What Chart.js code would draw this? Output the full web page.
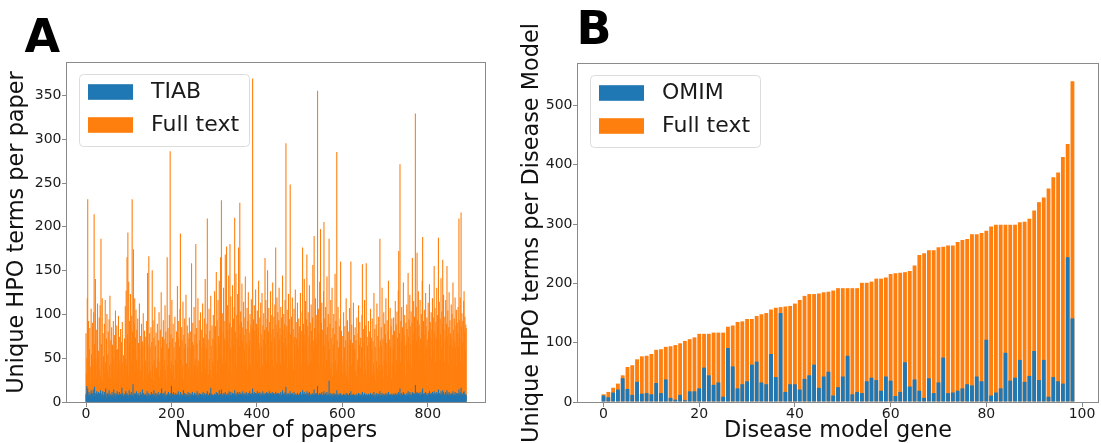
<!DOCTYPE html>
<html lang="en">
<head>
<meta charset="UTF-8">
<title>Unique HPO terms per paper / per disease model</title>
<script src="https://cdn.jsdelivr.net/npm/chart.js"></script>
<style>
  html, body { margin: 0; padding: 0; background: #fff; overflow: hidden; }
  canvas { position: absolute; top: 0; }
  #chartA { left: 0; }
  #chartB { left: 520px; }
</style>
</head>
<body>
<canvas id="chartA" width="520" height="445"></canvas>
<canvas id="chartB" width="581" height="445"></canvas>
<script>
// ---- panel A : unique HPO terms per paper (891 papers) ----
const tiab = [
  9,6,18,12,15,4,8,11,7,3,9,5,13,10,3,7,10,14,6,4,17,8,5,10,7,12,4,9,6,11,
  4,8,10,5,13,7,3,9,6,12,8,4,7,11,5,8,15,6,3,9,7,10,4,8,13,5,8,6,9,3,
  7,11,5,8,4,14,8,6,10,3,7,9,5,12,8,4,8,6,11,7,3,9,5,8,16,6,10,4,7,8,
  5,9,7,12,4,8,10,6,8,3,7,13,5,9,8,4,11,6,8,7,20,5,8,10,4,7,9,6,12,5,
  8,4,10,6,8,7,3,11,5,9,8,6,14,4,7,10,5,8,3,8,9,6,7,12,4,8,5,10,8,6,
  3,8,6,11,7,4,9,8,5,13,6,8,4,10,7,5,9,3,8,11,6,7,8,4,10,5,8,15,6,9,
  7,4,10,8,6,12,5,8,7,3,9,8,6,11,4,8,7,10,5,8,18,6,9,4,7,11,5,8,8,6,
  10,5,8,6,9,4,12,7,8,5,8,11,6,9,4,7,8,5,13,8,6,10,4,7,9,5,8,8,6,11,
  6,8,4,10,7,5,9,8,3,11,6,8,7,5,10,4,8,9,6,7,12,5,8,4,8,10,6,7,9,5,
  8,5,9,7,11,4,8,6,10,8,5,7,9,4,12,6,8,7,5,10,8,6,16,4,9,7,8,5,8,6,
  7,9,5,8,6,11,8,4,10,7,8,6,13,5,8,9,7,14,6,8,4,10,8,7,9,5,11,6,8,8,
  8,6,10,7,8,12,5,9,7,11,6,8,8,10,4,9,7,8,13,6,8,10,5,8,7,11,6,9,8,7,
  11,8,9,6,8,10,7,12,5,9,8,7,10,8,6,11,8,9,5,8,10,7,8,12,6,9,8,7,10,8,
  15,7,9,8,11,6,8,10,7,9,8,12,6,8,10,7,8,11,5,9,8,7,10,8,12,6,9,8,7,10,
  8,9,7,11,8,10,6,9,8,12,7,8,10,8,9,6,11,8,7,10,8,9,8,6,11,7,9,8,10,8,
  7,10,8,8,9,6,11,8,8,7,13,9,8,10,7,8,11,8,17,7,9,8,6,10,8,9,7,8,12,8,
  6,9,8,10,7,8,5,11,8,7,9,6,8,8,5,10,7,8,8,6,9,7,11,8,8,6,10,13,7,9,
  8,11,7,6,9,8,8,12,7,9,10,6,8,11,7,8,6,9,8,5,8,10,7,8,14,8,6,9,8,10,
  7,9,18,6,8,8,5,10,7,9,8,8,11,6,8,7,9,12,8,8,5,10,8,7,11,8,6,9,8,24,
  6,8,5,10,8,7,9,4,8,7,10,6,8,9,7,8,5,13,8,6,9,7,4,8,8,10,9,6,8,7,
  5,8,7,9,4,8,8,6,7,10,5,8,9,6,4,8,7,10,6,8,12,7,8,5,8,7,9,6,8,7,
  8,6,8,5,9,7,6,8,10,5,7,9,6,8,4,7,9,11,6,8,5,8,10,7,6,8,9,5,8,7,
  6,9,7,4,8,8,10,6,8,7,9,5,8,6,11,5,8,7,4,9,7,10,6,8,5,9,7,6,12,8,
  5,8,7,10,6,8,4,9,7,8,5,8,10,6,7,9,5,8,11,7,8,6,9,7,8,4,9,6,8,7,
  9,6,8,7,10,5,8,7,9,8,6,11,10,7,8,15,6,9,8,10,5,8,7,11,6,8,9,7,5,8,
  7,10,8,6,12,8,9,6,11,8,7,9,5,8,11,8,8,10,7,9,6,19,8,10,8,11,9,7,10,8,
  9,7,11,8,6,9,8,12,15,7,9,6,10,8,5,11,8,7,9,8,6,10,8,7,12,6,9,8,10,7,
  8,11,7,9,6,12,8,10,6,9,8,11,7,9,8,14,8,10,6,9,8,12,7,10,8,13,7,11,8,6,
  9,8,11,6,8,13,8,10,6,8,11,7,9,8,6,10,8,9,7,12,8,6,9,8,11,7,8,10,5,9,
  8,10,7,14,9,8,11,6,16,8,10,7,9,6,11,12,8,9,7,8,8
];
const fullTextA = [
  78,32,50,118,231,45,92,25,60,84,40,22,106,54,34,90,47,24,102,214,66,38,140,50,28,82,42,112,30,58,
  48,96,37,110,29,186,66,43,118,24,78,52,33,89,39,116,45,26,72,100,35,54,80,29,94,42,121,27,70,44,
  85,38,65,26,92,49,22,76,42,104,32,59,87,25,60,39,98,33,74,47,20,83,40,68,29,91,45,34,53,24,
  72,36,109,49,127,42,165,77,193,31,137,64,92,39,123,69,44,98,231,80,60,174,42,89,118,33,73,105,48,82,
  38,95,27,67,45,112,24,75,36,61,89,30,69,42,101,23,64,81,35,47,74,29,92,41,147,65,32,166,46,78,
  62,35,85,27,68,150,42,93,25,73,47,108,32,64,79,39,22,89,49,33,70,102,28,46,82,37,125,62,26,74,
  42,93,31,71,48,110,36,80,24,66,165,41,84,61,29,99,68,286,38,77,46,116,32,72,89,42,62,26,97,48,
  68,35,80,45,132,30,73,92,40,63,106,192,47,31,85,70,41,114,26,76,61,95,36,66,122,44,28,87,62,78,
  38,72,96,46,31,80,61,158,35,68,90,28,65,108,42,77,49,180,32,84,66,40,118,47,25,93,70,44,102,62,
  34,82,47,112,29,73,42,95,66,140,37,77,61,89,209,41,71,31,106,49,81,36,121,64,27,87,46,72,99,40,
  70,126,39,86,61,148,32,93,47,116,75,41,138,66,85,165,36,230,49,101,43,80,130,33,72,92,168,46,69,177,
  45,110,82,38,144,67,90,180,61,120,34,85,71,133,42,95,65,108,210,48,80,146,40,99,73,123,47,176,88,63,
  227,77,103,44,91,135,69,85,39,114,76,60,96,143,45,83,67,107,36,92,125,62,79,71,100,42,88,117,65,84,
  369,70,94,46,110,81,40,128,64,89,74,104,44,85,138,67,60,96,37,113,77,63,124,42,87,71,101,48,82,164,
  66,116,85,46,95,150,72,80,107,43,91,62,126,77,69,99,48,136,83,40,97,73,111,64,176,88,44,119,79,102,
  63,93,130,71,84,43,108,76,96,48,144,82,67,100,45,89,116,73,295,62,86,105,38,80,123,66,94,47,248,77,
  43,97,70,119,49,83,36,106,74,65,128,45,91,72,40,113,79,61,95,34,86,68,124,47,81,42,103,176,71,89,
  62,140,77,40,115,67,94,168,48,86,102,42,74,133,65,90,46,111,81,36,96,156,70,60,189,84,44,118,73,99,
  66,92,355,47,106,78,42,137,71,197,62,90,113,45,82,67,126,205,64,95,39,108,76,48,143,85,43,100,69,186,
  60,89,38,116,73,45,130,30,84,65,100,41,77,146,47,92,36,285,70,43,108,62,28,86,67,95,160,40,81,49,
  32,75,44,102,26,62,86,37,70,118,30,48,93,40,23,80,64,107,34,71,160,42,88,28,67,47,113,37,76,60,
  85,35,70,29,96,48,42,78,110,33,65,91,39,73,25,62,99,157,45,83,32,69,116,49,37,87,158,31,74,64,
  40,92,47,27,80,67,106,36,73,60,95,31,69,44,124,34,83,63,25,88,46,112,38,75,29,97,62,42,186,70,
  35,85,64,130,41,72,28,102,49,89,33,77,118,44,67,93,30,80,138,47,71,37,107,62,86,26,95,43,76,60,
  96,40,81,66,115,33,88,48,103,73,38,127,172,62,78,271,45,92,69,108,36,85,60,136,42,76,99,64,31,90,
  68,111,83,47,147,74,94,44,122,86,65,103,39,90,164,71,78,115,62,97,46,329,84,108,69,170,93,49,126,75,
  88,63,116,72,42,100,80,138,188,66,92,47,105,76,38,124,86,62,96,71,45,113,81,65,134,43,91,74,102,49,
  83,118,67,96,60,155,79,107,45,91,72,130,64,99,85,187,70,114,48,95,77,141,62,103,89,162,66,122,82,46,
  97,71,116,49,89,155,75,104,43,85,125,65,93,78,46,111,73,100,62,136,82,44,95,69,119,61,87,105,40,90,
  78,108,63,209,93,73,119,46,216,86,101,68,92,44,115,126,80,97,60,88,84
];
const paperTicks = [0, 200, 400, 600, 800];
const paperTermTicks = [0, 50, 100, 150, 200, 250, 300, 350];

// ---- panel B : unique HPO terms per disease model gene (99 genes) ----
const omim = [
  11,8,16,21,40,22,12,34,14,15, 13,32,15,38,7,4,12,3,18,18,
  23,58,45,29,33,9,91,60,23,30, 35,63,68,33,30,81,42,150,17,30,
  30,21,39,45,63,24,43,51,11,25, 43,78,13,17,15,35,41,37,19,43,
  36,10,17,67,26,38,19,7,40,15, 33,75,15,16,19,23,30,28,43,35,
  105,11,16,23,83,36,41,71,34,44, 86,37,71,9,42,35,31,244,141
];
const fullTextB = [
  13,17,24,31,45,59,62,72,77,78, 81,88,89,93,94,96,99,103,106,109,
  115,115,115,117,117,117,127,129,135,136, 140,140,145,148,150,156,159,160,161,162,
  166,172,179,182,182,183,185,186,188,192, 192,192,192,192,201,201,203,208,208,210,
  216,217,218,219,221,230,248,251,256,256, 261,262,264,264,270,273,275,283,283,285,
  289,296,299,299,299,299,299,303,304,309, 323,337,345,360,379,387,413,435,541
];
const geneTicks = [0, 20, 40, 60, 80, 100];
const geneTermTicks = [0, 100, 200, 300, 400, 500];

const BLUE = '#1f77b4';
const ORANGE = '#ff7f0e';
const FONT = "'DejaVu Sans', 'Noto Sans', sans-serif";
const AXIS_GREY = '#8a8a8a';

Chart.defaults.font.family = FONT;
Chart.defaults.color = '#1a1a1a';

// frame on all four sides, boxed legend in the upper left, panel letter
const panelPlugin = {
  id: 'panel',
  afterDatasetsDraw(chart, args, opts) {
    const { ctx, chartArea: ca } = chart;
    ctx.save();
    ctx.strokeStyle = AXIS_GREY;
    ctx.lineWidth = 1;
    ctx.strokeRect(Math.round(ca.left) - 0.5, Math.round(ca.top) - 0.5,
      Math.round(ca.right - ca.left) + 1, Math.round(ca.bottom - ca.top) + 1);

    const bx = ca.left + 12, by = ca.top + 11;
    ctx.beginPath();
    ctx.roundRect(bx + 0.5, by + 0.5, 170, 72, 4);
    ctx.fillStyle = 'rgba(255,255,255,0.8)';
    ctx.fill();
    ctx.strokeStyle = '#dcdcdc';
    ctx.stroke();
    chart.data.datasets.forEach((ds, i) => {
      const cy = by + 18 + i * 33;
      ctx.fillStyle = ds.backgroundColor;
      ctx.fillRect(bx + 9, cy - 7.8, 45, 15.6);
      ctx.fillStyle = '#1a1a1a';
      ctx.font = '22px ' + FONT;
      ctx.textBaseline = 'middle';
      ctx.textAlign = 'left';
      ctx.fillText(ds.label, bx + 72, cy);
    });

    ctx.fillStyle = '#000';
    ctx.font = 'bold 46px ' + FONT;
    ctx.textBaseline = 'alphabetic';
    ctx.fillText(opts.letter, opts.x, opts.y);
    ctx.restore();
  }
};

function axisX(min, max, tickVals, title) {
  return {
    type: 'linear', min: min, max: max, offset: false,
    afterBuildTicks: s => { s.ticks = tickVals.map(v => ({ value: v })); },
    afterFit: s => { s.height = 43; },
    grid: { offset: false, drawOnChartArea: false, tickLength: 5, color: AXIS_GREY },
    border: { display: false },
    ticks: { padding: 0, maxRotation: 0, font: { size: 14, lineHeight: 1 }, color: '#1a1a1a' },
    title: { display: true, text: title, font: { size: 22.4 }, color: '#111', padding: { top: 0, bottom: 0 } }
  };
}

function axisY(max, tickVals, title, width, titlePad) {
  return {
    min: 0, max: max,
    afterBuildTicks: s => { s.ticks = tickVals.map(v => ({ value: v })); },
    afterFit: s => { s.width = width; },
    grid: { offset: false, drawOnChartArea: false, tickLength: 5, color: AXIS_GREY },
    border: { display: false },
    ticks: { padding: 0.5, font: { size: 14 }, color: '#1a1a1a' },
    title: { display: true, text: title, font: { size: 22.4 }, color: '#111', padding: { top: titlePad, bottom: 0 } }
  };
}

const papersChart = new Chart(document.getElementById('chartA'), {
  type: 'bar',
  data: {
    labels: fullTextA.map((v, i) => i),
    datasets: [
      { label: 'TIAB', data: tiab, backgroundColor: BLUE },
      { label: 'Full text', data: fullTextA, backgroundColor: ORANGE }
    ]
  },
  options: {
    responsive: false, animation: false, events: [],
    datasets: { bar: { grouped: false, barPercentage: 1, categoryPercentage: 1 } },
    layout: { padding: { top: 63, right: 35, left: 0, bottom: 0 } },
    plugins: { legend: { display: false }, tooltip: { enabled: false }, panel: { letter: 'A', x: 24.5, y: 51.7 } },
    scales: {
      x: axisX(-44.5, 934, paperTicks, 'Number of papers'),
      y: axisY(387, paperTermTicks, 'Unique HPO terms per paper', 67, 4)
    }
  },
  plugins: [panelPlugin]
});

const genesChart = new Chart(document.getElementById('chartB'), {
  type: 'bar',
  data: {
    labels: fullTextB.map((v, i) => i),
    datasets: [
      { label: 'OMIM', data: omim, backgroundColor: BLUE },
      { label: 'Full text', data: fullTextB, backgroundColor: ORANGE }
    ]
  },
  options: {
    responsive: false, animation: false, events: [],
    datasets: { bar: { grouped: false, barPercentage: 0.8, categoryPercentage: 1 } },
    layout: { padding: { top: 64, right: 3, left: 0, bottom: 0 } },
    plugins: { legend: { display: false }, tooltip: { enabled: false }, panel: { letter: 'B', x: 56.4, y: 44.3 } },
    scales: {
      x: axisX(-5.34, 103.34, geneTicks, 'Disease model gene'),
      y: axisY(570, geneTermTicks, 'Unique HPO terms per Disease Model', 58, -1)
    }
  },
  plugins: [panelPlugin]
});
</script>
</body>
</html>
